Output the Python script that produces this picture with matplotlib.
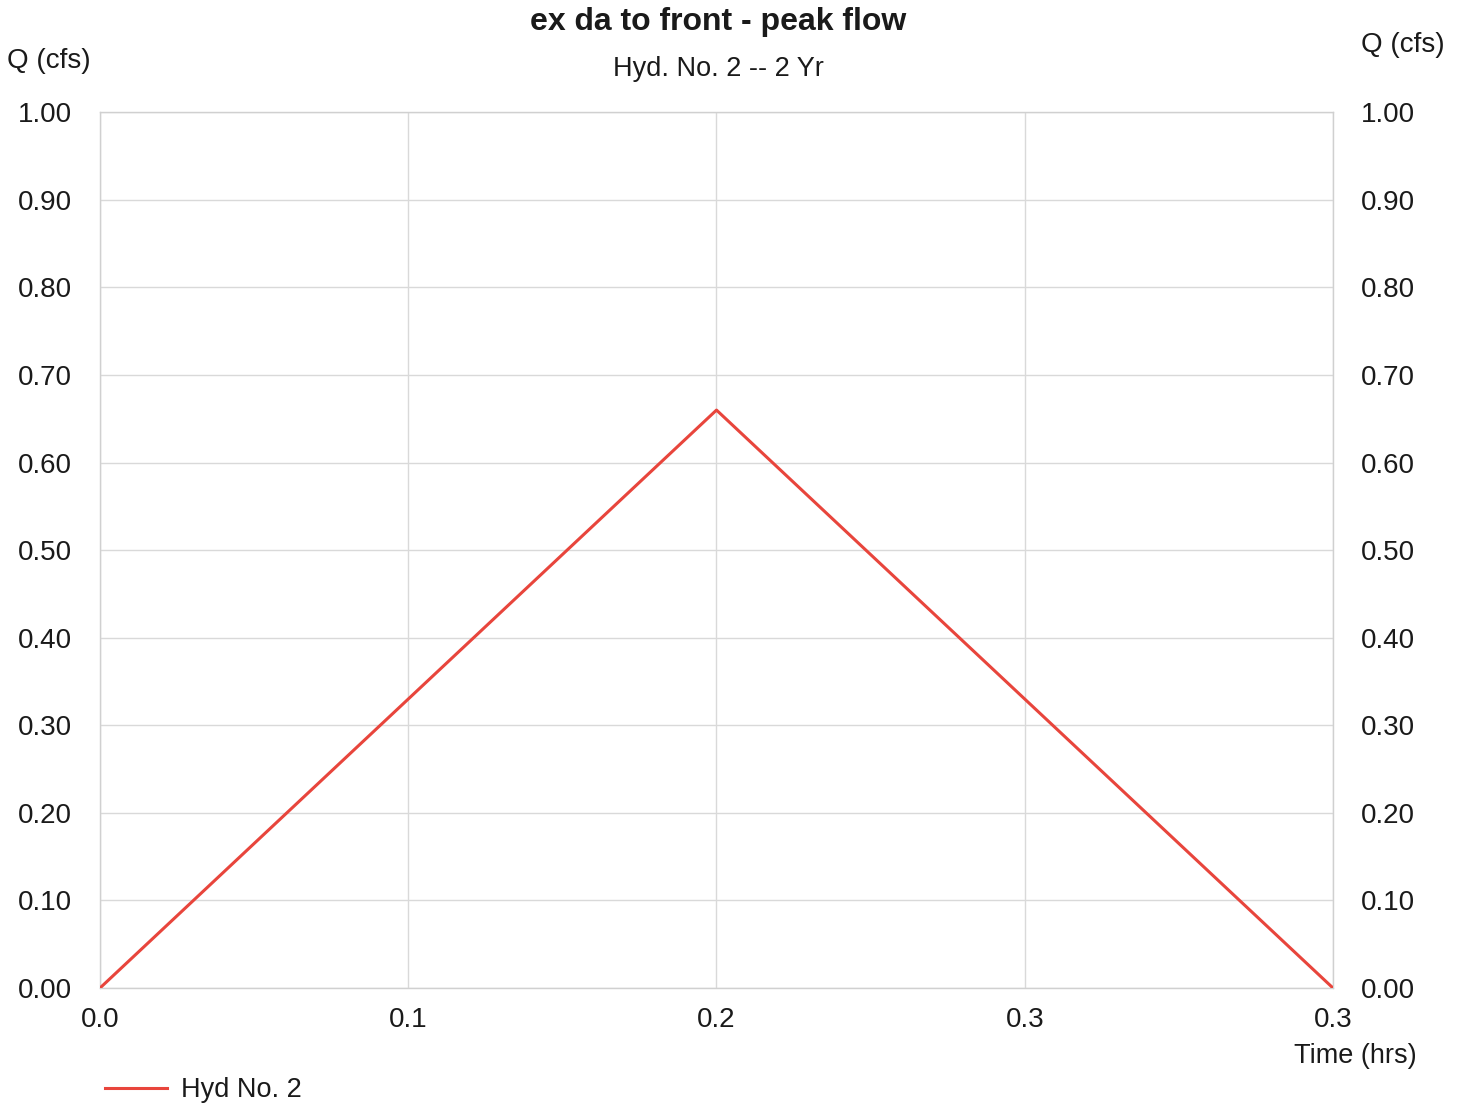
import matplotlib
matplotlib.use("Agg")
import matplotlib.pyplot as plt
import numpy as np

plt.rcParams['font.family'] = ['Liberation Sans', 'DejaVu Sans']

# Data
time_hrs = [0.0, 1/6, 1/3]
flow_cfs = [0.0, 0.66, 0.0]
x_ticks = [0.0, 1/12, 1/6, 1/4, 1/3]
x_tick_labels = ["0.0", "0.1", "0.2", "0.3", "0.3"]
y_ticks = [0.0, 0.1, 0.2, 0.3, 0.4, 0.5, 0.6, 0.7, 0.8, 0.9, 1.0]
y_tick_labels = ["%.2f" % v for v in y_ticks]

fig = plt.figure(figsize=(14.6, 11.07), dpi=100)
ax = fig.add_axes([0.0685, 0.1075, 0.8445, 0.791])

ax.plot(time_hrs, flow_cfs, color='#e8453c', lw=2.2, label='Hyd No. 2', zorder=3)
ax.set_xlim(0, 1/3)
ax.set_ylim(0, 1.0)
ax.set_xticks(x_ticks)
ax.set_xticklabels(x_tick_labels)
ax.set_yticks(y_ticks)
ax.set_yticklabels(y_tick_labels)
ax.grid(True, color='#d9d9d9', lw=1.0)
ax.tick_params(axis='both', length=0, labelsize=20, colors='#1a1a1a')
ax.tick_params(axis='y', labelright=True, pad=20)
ax.tick_params(axis='x', pad=14)
for s in ax.spines.values():
    s.set_color('#d0d0d0')
    s.set_linewidth(1.0)

fig.text(0.492, 0.980, "ex da to front - peak flow", ha='center', va='center',
         fontsize=23, fontweight='bold', color='#1a1a1a')
fig.text(0.492, 0.938, "Hyd. No. 2 -- 2 Yr", ha='center', va='center',
         fontsize=19.5, color='#1a1a1a')
fig.text(0.005, 0.945, "Q (cfs)", ha='left', va='center', fontsize=20, color='#1a1a1a')
fig.text(0.932, 0.959, "Q (cfs)", ha='left', va='center', fontsize=20, color='#1a1a1a')
fig.text(0.970, 0.046, "Time (hrs)", ha='right', va='center', fontsize=19.5, color='#1a1a1a')

leg = fig.legend(loc='center left', bbox_to_anchor=(0.055, 0.015), frameon=False,
                 fontsize=19.5, handlelength=2.3, handletextpad=0.5)
for t in leg.get_texts():
    t.set_color('#1a1a1a')

fig.savefig("out.png", dpi=100)
